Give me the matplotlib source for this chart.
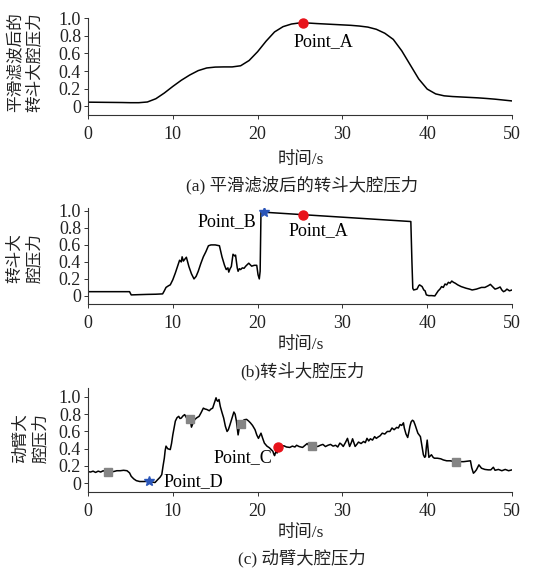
import matplotlib
matplotlib.use("Agg")
import matplotlib.pyplot as plt

plt.rcParams['font.family'] = ['Liberation Serif', 'Noto Sans CJK SC']
plt.rcParams['axes.unicode_minus'] = False

# ---------------- data ----------------
x_ticks = [0, 10, 20, 30, 40, 50]
y_ticks = [0, 0.2, 0.4, 0.6, 0.8, 1.0]
y_tick_labels = ["0", "0.2", "0.4", "0.6", "0.8", "1.0"]

# (a) smoothed bucket large-chamber pressure
time_a = [0, 1, 2, 3, 4, 5, 6, 7, 8, 9, 10, 11, 12, 13, 14, 15, 16, 17, 18, 19, 20,
          21, 22, 23, 24, 25, 26, 27, 28, 29, 30, 31, 32, 33, 34, 35, 36, 37, 38, 39, 40,
          41, 42, 43, 44, 45, 46, 47, 48, 49, 50]
pressure_a = [0.046, 0.045, 0.044, 0.043, 0.042, 0.040, 0.040, 0.048, 0.085, 0.15, 0.225,
              0.295, 0.355, 0.405, 0.435, 0.445, 0.447, 0.447, 0.46, 0.52, 0.62,
              0.74, 0.845, 0.905, 0.935, 0.948, 0.946, 0.94, 0.935, 0.93, 0.925,
              0.92, 0.912, 0.90, 0.875, 0.83, 0.76, 0.63, 0.47, 0.31, 0.195,
              0.14, 0.118, 0.11, 0.105, 0.10, 0.095, 0.088, 0.08, 0.07, 0.06]

# (b) bucket large-chamber pressure (t, p)
curve_b = [(0, 0.05), (2, 0.05), (4.9, 0.05), (5.0, 0.03), (5.1, 0.012), (6, 0.015), (7, 0.018),
           (8, 0.02), (8.8, 0.024), (9.0, 0.06), (9.2, 0.10), (9.5, 0.12), (9.7, 0.13), (10.0, 0.19),
           (10.3, 0.27), (10.6, 0.36), (10.8, 0.42), (11.0, 0.40), (11.1, 0.46), (11.25, 0.41),
           (11.4, 0.43), (11.6, 0.455), (11.75, 0.40), (11.9, 0.345), (12.2, 0.26), (12.5, 0.20),
           (12.75, 0.23), (13.0, 0.29), (13.3, 0.38), (13.6, 0.46), (13.9, 0.52), (14.2, 0.59),
           (14.5, 0.60), (15.0, 0.60), (15.5, 0.59), (15.8, 0.46), (16.1, 0.36), (16.3, 0.31),
           (16.5, 0.33), (16.6, 0.28), (16.75, 0.32), (16.9, 0.345), (17.1, 0.49), (17.3, 0.47),
           (17.4, 0.48), (17.6, 0.33), (17.7, 0.29), (17.85, 0.32), (18.0, 0.31), (18.2, 0.33),
           (18.4, 0.325), (18.6, 0.35), (18.8, 0.37), (18.96, 0.385), (19.1, 0.37), (19.3, 0.35),
           (19.6, 0.36), (19.9, 0.36), (20.05, 0.25), (20.2, 0.20), (20.3, 0.29), (20.4, 0.99),
           (20.7, 0.985), (38.07, 0.875), (38.2, 0.40), (38.3, 0.09), (38.4, 0.07), (38.6, 0.075),
           (38.8, 0.08), (39.0, 0.12), (39.1, 0.13), (39.25, 0.12), (39.4, 0.11), (39.6, 0.07),
           (39.75, 0.06), (39.9, 0.012), (40.2, 0.003), (40.5, 0.004), (40.9, 0.0), (41.1, 0.03),
           (41.3, 0.06), (41.5, 0.08), (41.7, 0.11), (41.9, 0.10), (42.1, 0.14), (42.3, 0.13),
           (42.5, 0.16), (42.7, 0.15), (42.9, 0.175), (43.1, 0.16), (43.3, 0.15), (43.6, 0.13),
           (44.0, 0.11), (44.3, 0.10), (44.6, 0.09), (45.0, 0.08), (45.3, 0.07), (45.8, 0.08),
           (46.4, 0.10), (46.8, 0.10), (47.2, 0.12), (47.45, 0.136), (47.7, 0.11), (48.0, 0.08),
           (48.3, 0.09), (48.6, 0.105), (48.8, 0.07), (49.0, 0.05), (49.2, 0.06), (49.4, 0.08),
           (49.7, 0.06), (50, 0.07)]

# (c) boom large-chamber pressure (t, p)
curve_c = [(0, 0.135), (0.3, 0.13), (0.6, 0.14), (0.9, 0.125), (1.2, 0.14), (1.5, 0.13), (1.8, 0.145),
           (2.1, 0.13), (2.4, 0.13), (2.7, 0.14), (3.0, 0.135), (3.4, 0.145), (3.8, 0.145), (4.2, 0.15),
           (4.6, 0.145), (4.9, 0.12), (5.1, 0.08), (5.4, 0.05), (5.7, 0.03), (6.1, 0.02), (6.6, 0.02),
           (7.1, 0.022), (7.5, 0.015), (7.9, 0.008), (8.2, 0.04), (8.5, 0.07), (8.7, 0.10), (8.85, 0.2),
           (9.0, 0.29), (9.1, 0.38), (9.2, 0.43), (9.4, 0.40), (9.7, 0.39), (9.85, 0.46), (10.0, 0.56),
           (10.3, 0.72), (10.5, 0.76), (10.7, 0.775), (10.85, 0.75), (11.0, 0.755), (11.2, 0.78),
           (11.4, 0.795), (11.6, 0.76), (11.75, 0.74), (12.05, 0.74), (12.2, 0.65), (12.4, 0.70),
           (12.6, 0.74), (12.85, 0.76), (13.1, 0.775), (13.35, 0.82), (13.6, 0.87), (13.8, 0.86),
           (14.0, 0.855), (14.3, 0.84), (14.5, 0.86), (14.7, 0.87), (14.9, 0.93), (15.1, 0.99),
           (15.2, 0.96), (15.3, 0.95), (15.45, 0.97), (15.6, 0.89), (15.8, 0.82), (16.0, 0.755),
           (16.2, 0.66), (16.4, 0.60), (16.55, 0.62), (16.75, 0.68), (17.0, 0.76), (17.2, 0.825),
           (17.35, 0.80), (17.5, 0.72), (17.7, 0.56), (17.9, 0.68), (18.1, 0.685), (18.4, 0.735),
           (18.7, 0.74), (18.95, 0.72), (19.15, 0.70), (19.4, 0.67), (19.7, 0.62), (19.9, 0.56),
           (20.1, 0.52), (20.25, 0.55), (20.4, 0.58), (20.6, 0.52), (20.8, 0.465), (21.1, 0.43),
           (21.4, 0.41), (21.6, 0.39), (21.8, 0.37), (21.9, 0.34), (22.0, 0.32), (22.2, 0.38),
           (22.3, 0.35), (22.4, 0.415), (22.7, 0.43), (23.1, 0.434), (23.4, 0.42), (23.8, 0.415),
           (24.1, 0.43), (24.4, 0.42), (24.6, 0.44), (24.9, 0.425), (25.3, 0.415), (25.6, 0.44),
           (25.85, 0.46), (26.1, 0.43), (26.4, 0.434), (26.8, 0.43), (27.1, 0.426), (27.4, 0.44),
           (27.7, 0.45), (28.0, 0.425), (28.3, 0.44), (28.6, 0.45), (28.9, 0.43), (29.2, 0.44),
           (29.45, 0.42), (29.7, 0.465), (29.9, 0.45), (30.1, 0.426), (30.35, 0.47), (30.6, 0.52),
           (30.85, 0.426), (31.05, 0.47), (31.2, 0.515), (31.5, 0.426), (31.7, 0.45), (31.9, 0.477),
           (32.2, 0.46), (32.5, 0.484), (32.7, 0.47), (32.9, 0.52), (33.1, 0.49), (33.3, 0.515),
           (33.55, 0.50), (33.8, 0.54), (34.0, 0.52), (34.2, 0.535), (34.45, 0.55), (34.7, 0.58),
           (35.0, 0.57), (35.3, 0.60), (35.6, 0.60), (35.85, 0.64), (36.1, 0.62), (36.4, 0.647),
           (36.6, 0.64), (36.8, 0.68), (37.0, 0.67), (37.1, 0.686), (37.2, 0.70), (37.3, 0.64),
           (37.5, 0.57), (37.7, 0.53), (37.85, 0.60), (37.96, 0.66), (38.1, 0.71), (38.26, 0.73),
           (38.4, 0.72), (38.56, 0.68), (38.9, 0.58), (39.2, 0.54), (39.4, 0.42), (39.55, 0.33),
           (39.7, 0.30), (39.8, 0.31), (39.9, 0.42), (40.0, 0.50), (40.1, 0.40), (40.2, 0.30),
           (40.5, 0.33), (40.7, 0.30), (40.85, 0.29), (41.2, 0.29), (41.6, 0.283), (41.9, 0.27),
           (42.3, 0.26), (42.7, 0.26), (43.0, 0.255), (43.4, 0.248), (43.8, 0.25), (44.3, 0.25),
           (44.7, 0.255), (45.1, 0.26), (45.25, 0.18), (45.45, 0.116), (45.6, 0.13), (45.8, 0.155),
           (46.1, 0.213), (46.4, 0.174), (46.8, 0.16), (47.2, 0.155), (47.5, 0.155), (47.8, 0.185),
           (48.0, 0.15), (48.4, 0.16), (48.8, 0.145), (49.2, 0.16), (49.6, 0.145), (50, 0.155)]

# marked points
point_a_a = (25.4, 0.948)
point_a_b = (25.4, 0.955)
point_b = (20.7, 0.99)
point_c = (22.4, 0.415)
point_d = (7.2, 0.022)
square_t = [2.4, 12.0, 18.1, 26.4, 43.4]
square_p = [0.13, 0.74, 0.685, 0.434, 0.25]

ylabels = ["平滑滤波后的\n转斗大腔压力", "转斗大\n腔压力", "动臂大\n腔压力"]
captions = ["(a) 平滑滤波后的转斗大腔压力", "(b)转斗大腔压力", "(c) 动臂大腔压力"]
xlabel = "时间/s"

# ---------------- figure ----------------
W, H = 554, 570
fig = plt.figure(figsize=(W / 100, H / 100), dpi=100)

def px(x0, ytop, x1, ybot):
    return [x0 / W, 1 - ybot / H, (x1 - x0) / W, (ybot - ytop) / H]

ax_a = fig.add_axes(px(88, 18.3, 512, 115))
ax_b = fig.add_axes(px(88, 207.5, 512, 304))
ax_c = fig.add_axes(px(88, 388.3, 512, 492.3))
ylims = [(-0.1, 1.0), (-0.095, 1.04), (-0.105, 1.1)]

line_kw = dict(color="black", lw=1.1)
ax_a.plot(time_a, pressure_a, **line_kw)
tb, pb = zip(*curve_b)
ax_b.plot(tb, pb, **line_kw)
tc, pc = zip(*curve_c)
ax_c.plot(tc, pc, **line_kw)

red = "#e8121a"
blue = "#2a55b8"
grey = "#858585"

ax_a.plot(*point_a_a, "o", color=red, ms=6.5, zorder=5)
ax_a.text(point_a_a[0] + 2.3, point_a_a[1] - 0.21, "Point_A", fontsize=13, ha="center", va="center")

ax_b.plot(*point_a_b, "o", color=red, ms=6.5, zorder=5)
ax_b.text(point_a_b[0] + 1.8, point_a_b[1] - 0.19, "Point_A", fontsize=13, ha="center", va="center")
ax_b.plot(*point_b, "*", color=blue, ms=7.5, zorder=5)
ax_b.text(point_b[0] - 0.8, point_b[1] - 0.12, "Point_B", fontsize=13, ha="right", va="center")

ax_c.plot(square_t, square_p, "s", color=grey, ms=5.5, zorder=4)
ax_c.plot(*point_c, "o", color=red, ms=6.5, zorder=5)
ax_c.text(point_c[0] - 0.7, point_c[1] - 0.115, "Point_C", fontsize=13, ha="right", va="center")
ax_c.plot(*point_d, "*", color=blue, ms=7.5, zorder=5)
ax_c.text(point_d[0] + 1.7, point_d[1] - 0.005, "Point_D", fontsize=13, ha="left", va="center")

for ax, yl in zip([ax_a, ax_b, ax_c], ylims):
    ax.set_xlim(0, 50)
    ax.set_ylim(*yl)
    ax.set_xticks(x_ticks)
    ax.set_xticklabels([str(v) for v in x_ticks])
    ax.set_yticks(y_ticks)
    ax.set_yticklabels(y_tick_labels)
    for s in ["top", "right"]:
        ax.spines[s].set_visible(False)
    for s in ["left", "bottom"]:
        ax.spines[s].set_color("#333333")
        ax.spines[s].set_linewidth(0.8)
    ax.tick_params(axis="both", direction="out", length=3, width=0.7, colors="#333333",
                   labelcolor="#222222", labelsize=13)
    ax.tick_params(axis="x", pad=5)
    ax.tick_params(axis="y", pad=2)
    ax.patch.set_alpha(0)

# y labels (two-line, rotated)
ylab_pos = [(25, 62), (25, 258), (31, 438)]
for (xp, yp), txt in zip(ylab_pos, ylabels):
    fig.text(xp / W, 1 - yp / H, txt, rotation=90, ha="center", va="center",
             fontsize=12, linespacing=1.3, color="#222222")

# x labels and captions
xlab_y = [160, 345, 533]
cap_y = [185, 371, 558]
for y in xlab_y:
    fig.text(301 / W, 1 - y / H, xlabel, ha="center", va="center", fontsize=12.5, color="#222222")
for y, txt in zip(cap_y, captions):
    fig.text(302 / W, 1 - y / H, txt, ha="center", va="center", fontsize=12.5, color="#222222")

fig.savefig("out.png", dpi=100)
